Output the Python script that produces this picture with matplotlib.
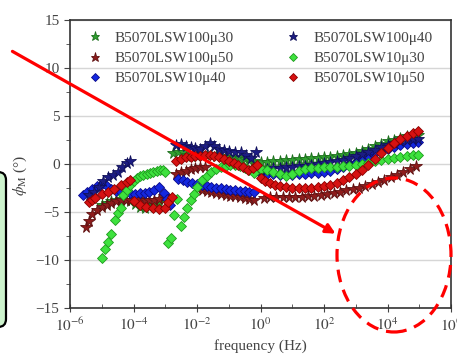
import matplotlib
matplotlib.use('Agg')
import matplotlib.pyplot as plt
import numpy as np
from matplotlib.patches import Ellipse, FancyArrowPatch, FancyBboxPatch
from matplotlib.transforms import IdentityTransform
from matplotlib.ticker import NullFormatter

plt.rcParams['font.family'] = ['Liberation Serif', 'DejaVu Serif']
plt.rcParams['mathtext.fontset'] = 'stix'

# --- données (log10 de la fréquence, phase en degrés) ---
labels = ['B5070LSW100\u03bc30', 'B5070LSW100\u03bc50', 'B5070LSW10\u03bc40',
          'B5070LSW100\u03bc40', 'B5070LSW10\u03bc30', 'B5070LSW10\u03bc50']

# étoiles vertes  B5070LSW100µ30
gs_logf = [-5.0, -4.85, -4.7, -4.55, -4.4, -4.25, -4.1, -3.95, -3.8, -3.65, -3.5, -3.35, -3.2, -3.05,
           -2.75, -2.6, -2.45, -2.3, -2.15, -2.0, -1.85, -1.7, -1.55, -1.4, -1.25, -1.1, -0.95, -0.8,
           -0.65, -0.5, -0.35, -0.2,
           0.0, 0.2, 0.4, 0.6, 0.8, 1.0, 1.2, 1.4, 1.6, 1.8, 2.0, 2.2, 2.4, 2.6, 2.8, 3.0, 3.2, 3.4,
           3.6, 3.8, 4.0, 4.2, 4.4, 4.6, 4.8, 4.95]
gs_phi = [-4.3, -4.1, -3.9, -3.7, -3.6, -3.7, -3.9, -4.2, -4.5, -4.6, -4.5, -4.3, -4.0, -3.6,
          1.1, 1.3, 1.2, 0.9, 0.8, 0.85, 0.9, 0.95, 0.9, 0.85, 0.8, 0.75, 0.75, 0.7,
          0.6, 0.5, 0.4, 0.3,
          0.2, 0.25, 0.3, 0.35, 0.4, 0.45, 0.5, 0.55, 0.6, 0.65, 0.7, 0.75, 0.8, 0.9, 1.0, 1.15, 1.35, 1.6,
          1.85, 2.1, 2.35, 2.55, 2.75, 2.9, 3.0, 3.05]

# étoiles rouge foncé  B5070LSW100µ50
rs_logf = [-5.5, -5.4, -5.3, -5.15, -5.0, -4.85, -4.7, -4.55, -4.4, -4.25, -4.1, -3.95, -3.8, -3.65,
           -3.5, -3.35, -3.2, -3.05,
           -2.65, -2.5, -2.35, -2.2, -2.05, -1.9, -1.75,
           -2.0, -1.85, -1.7, -1.55, -1.4, -1.25, -1.1, -0.95, -0.8, -0.65, -0.5, -0.35, -0.2,
           0.1, 0.3, 0.5, 0.7, 0.9, 1.1, 1.3, 1.5, 1.7, 1.9, 2.1, 2.3, 2.5, 2.7, 2.9, 3.1, 3.3, 3.5,
           3.7, 3.9, 4.1, 4.3, 4.5, 4.7, 4.9]
rs_phi = [-6.6, -5.9, -5.2, -4.8, -4.5, -4.3, -4.1, -3.9, -3.8, -3.75, -3.7, -3.6, -3.6, -3.7,
          -3.8, -3.8, -3.6, -3.3,
          -1.0, -0.85, -0.7, -0.55, -0.45, -0.35, -0.3,
          -2.5, -2.7, -2.85, -2.95, -3.05, -3.15, -3.2, -3.3, -3.35, -3.4, -3.5, -3.6, -3.7,
          -3.5, -3.4, -3.4, -3.4, -3.4, -3.4, -3.4, -3.35, -3.3, -3.2, -3.1, -3.0, -2.9, -2.75, -2.6,
          -2.45, -2.25, -2.05, -1.85, -1.65, -1.4, -1.1, -0.8, -0.5, -0.2]

# losanges bleus  B5070LSW10µ40
bd_logf = [-5.6, -5.45, -5.3, -5.15, -5.0, -4.85, -4.7, -4.55, -4.4, -4.25, -4.1, -3.95, -3.8, -3.65,
           -3.5, -3.35, -3.2, -3.05, -2.95, -2.85,
           -2.6, -2.45, -2.3, -2.15, -2.0, -1.85, -1.7, -1.55, -1.4, -1.25, -1.1, -0.95, -0.8, -0.65,
           -0.5, -0.35, -0.2,
           0.0, 0.2, 0.4, 0.6, 0.8, 1.0, 1.2, 1.4, 1.6, 1.8, 2.0, 2.2, 2.4, 2.6, 2.8, 3.0, 3.2, 3.4,
           3.6, 3.8, 4.0, 4.2, 4.4, 4.6, 4.8, 4.95]
bd_phi = [-3.2, -2.9, -2.6, -2.3, -2.1, -2.3, -2.6, -2.8, -2.9, -2.95, -3.0, -3.1, -3.05, -3.0,
          -2.9, -2.7, -2.4, -3.0, -3.6, -4.3,
          -1.6, -1.7, -1.85, -2.0, -2.1, -2.2, -2.3, -2.4, -2.5, -2.55, -2.6, -2.7, -2.7, -2.8,
          -2.85, -2.9, -2.9,
          -1.0, -1.0, -1.05, -1.1, -1.1, -1.1, -1.05, -1.0, -0.95, -0.9, -0.8, -0.7, -0.5, -0.3,
          -0.05, 0.2, 0.5, 0.8, 1.1, 1.4, 1.6, 1.8, 1.95, 2.1, 2.2, 2.3]

# étoiles bleu marine  B5070LSW100µ40
ns_logf = [-5.4, -5.25, -5.1, -4.95, -4.8, -4.65, -4.5, -4.35, -4.2, -4.1,
           -2.65, -2.5, -2.35, -2.2, -2.05, -1.9, -1.75, -1.6, -1.45, -1.3, -1.15, -1.0, -0.8, -0.6,
           -0.45, -0.3, -0.13,
           0.0, 0.2, 0.4, 0.6, 0.8, 1.0, 1.2, 1.4, 1.6, 1.8, 2.0, 2.2, 2.4, 2.6, 2.8, 3.0, 3.2, 3.4,
           3.6, 3.8, 4.0, 4.2, 4.4, 4.6, 4.8, 4.95]
ns_phi = [-3.2, -2.9, -2.4, -1.8, -1.4, -1.1, -0.8, -0.3, 0.1, 0.3,
          2.0, 2.1, 1.9, 1.8, 1.7, 1.6, 1.9, 2.2, 1.9, 1.6, 1.5, 1.4, 1.3, 1.2,
          0.9, 0.6, 1.3,
          -0.6, -0.5, -0.45, -0.4, -0.35, -0.3, -0.25, -0.2, -0.1, 0.0, 0.1, 0.2, 0.3, 0.45, 0.6,
          0.8, 1.0, 1.25, 1.5, 1.75, 2.0, 2.2, 2.35, 2.5, 2.6, 2.65]

# losanges verts  B5070LSW10µ30
gd_logf = [-5.0, -4.9, -4.8, -4.7, -4.58, -4.48, -4.39, -4.32, -4.21, -4.1, -4.0, -3.9, -3.8, -3.7,
           -3.58, -3.48, -3.38, -3.27, -3.17, -3.08, -3.0,
           -2.9, -2.82, -2.72, -2.64,
           -2.49, -2.4, -2.3, -2.2, -2.1, -2.0, -1.85, -1.7, -1.55, -1.4, -1.25, -1.1, -0.95, -0.8,
           -0.65, -0.5, -0.35, -0.2,
           0.0, 0.2, 0.4, 0.6, 0.8, 1.0, 1.2, 1.4, 1.6, 1.8, 2.0, 2.2, 2.4, 2.6, 2.8, 3.0, 3.2, 3.4,
           3.6, 3.8, 4.0, 4.2, 4.4, 4.6, 4.8, 4.95]
gd_phi = [-9.8, -8.9, -8.1, -7.3, -5.8, -5.1, -4.6, -3.2, -2.7, -2.2, -1.8, -1.5, -1.3, -1.1,
          -1.0, -0.9, -0.8, -0.7, -0.6, -0.65, -0.8,
          -8.2, -7.7, -5.3, -3.6,
          -6.5, -5.5, -4.6, -3.8, -3.1, -2.4, -1.7, -1.2, -0.8, -0.5, -0.3, -0.2, -0.1, -0.1,
          -0.2, -0.4, -0.6, -0.9,
          -0.5, -0.6, -0.8, -1.0, -1.3, -1.0, -0.7, -0.5, -0.45, -0.4, -0.35, -0.3, -0.3, -0.25,
          -0.2, -0.1, 0.0, 0.15, 0.3, 0.4, 0.5, 0.6, 0.7, 0.8, 0.9, 0.95]

# losanges rouges  B5070LSW10µ50
rd_logf = [-5.4, -5.3, -5.2, -5.0, -4.8, -4.6, -4.4, -4.2, -4.1,
           -4.0, -3.8, -3.6, -3.4, -3.2, -3.0, -2.9, -2.8,
           -2.65, -2.5, -2.35, -2.2, -2.05, -1.9, -1.75, -1.6, -1.45, -1.3, -1.15, -1.0, -0.85, -0.7,
           -0.55, -0.4, -0.25, -0.1,
           0.0, 0.15, 0.3, 0.45, 0.6, 0.8, 1.0, 1.2, 1.4, 1.6, 1.8, 2.0, 2.2, 2.4, 2.6, 2.8, 3.0,
           3.2, 3.4, 3.6, 3.8, 4.0, 4.2, 4.4, 4.6, 4.8, 4.95]
rd_phi = [-4.0, -3.8, -3.5, -3.1, -2.9, -2.6, -2.2, -1.9, -1.7,
          -3.9, -4.3, -4.5, -4.6, -4.7, -4.6, -4.0, -3.4,
          0.3, 0.5, 0.7, 0.75, 0.8, 0.85, 0.9, 0.9, 0.85, 0.7, 0.5, 0.3, 0.1, -0.15,
          -0.35, -0.6, -0.4, -0.1,
          -1.5, -1.8, -2.0, -2.2, -2.3, -2.4, -2.45, -2.5, -2.5, -2.5, -2.4, -2.3, -2.15, -2.0,
          -1.7, -1.4, -1.0, -0.6, -0.1, 0.5, 1.1, 1.7, 2.2, 2.6, 2.9, 3.2, 3.4]

# --- figure ---
fig = plt.figure(figsize=(4.57, 3.58), dpi=100)
ax = fig.add_axes([70/457, 50/358, 381/457, 288/358])

series = [
    (gs_logf, gs_phi, '*', 8.5, '#2f9f2f', '#1d6e1d'),
    (rs_logf, rs_phi, '*', 8.5, '#8e1c1c', '#5e1010'),
    (bd_logf, bd_phi, 'D', 5.5, '#1428e0', '#0a0a8a'),
    (ns_logf, ns_phi, '*', 8.5, '#1c1c84', '#10105a'),
    (gd_logf, gd_phi, 'D', 5.5, '#3ee23e', '#1e9a1e'),
    (rd_logf, rd_phi, 'D', 5.5, '#d61212', '#8a0000'),
]
for (lf, ph, m, ms, c, ec), lab in zip(series, labels):
    ax.semilogx(10.0 ** np.array(lf), ph, linestyle='none', marker=m, ms=ms,
                mfc=c, mec=ec, mew=0.6, label=lab)

ax.set_xlim(1e-6, 1e6)
ax.set_ylim(-15, 15)
ax.set_xticks([10.0 ** k for k in range(-6, 7, 2)])
ax.set_xticklabels([r'$10^{%d}$' % k for k in range(-6, 7, 2)])
ax.set_xticks([10.0 ** k for k in range(-5, 6, 2)], minor=True)
ax.xaxis.set_minor_formatter(NullFormatter())
ax.set_yticks(np.arange(-15, 16, 5))
ax.set_yticks(np.arange(-12.5, 15, 2.5), minor=True)
ax.yaxis.grid(True, color='#d6d6d6', lw=1.0)
ax.set_axisbelow(True)

for s in ax.spines.values():
    s.set_color('#333333')
    s.set_linewidth(1.2)
ax.tick_params(axis='x', which='major', direction='inout', length=6, labelsize=11,
               colors='#444444', pad=3)
ax.tick_params(axis='x', which='minor', direction='in', length=3, color='#444444')
ax.tick_params(axis='y', which='major', direction='out', length=4, labelsize=11,
               colors='#444444')
ax.tick_params(axis='y', which='minor', direction='out', length=3, color='#444444')

ax.set_xlabel('frequency (Hz)', fontsize=11, color='#444444')
ax.xaxis.set_label_coords(0.5, -0.108)
ax.set_ylabel(r'$\phi_\mathrm{M}$ (°)', fontsize=11, color='#444444')
ax.yaxis.set_label_coords(-0.108, 0.46)

ax.legend(ncol=2, loc='upper left', bbox_to_anchor=(87/457, 1 - 31/358),
          bbox_transform=fig.transFigure, frameon=False, borderpad=0, borderaxespad=0,
          handlelength=1.0, handletextpad=0.8, columnspacing=3.4, labelspacing=0.43,
          numpoints=1, markerscale=0.8, fontsize=11, labelcolor='#444444')

# --- annotations en rouge (coordonnées en pixels) ---
pix = IdentityTransform()
box = FancyBboxPatch((-20, 31), 26, 155, boxstyle='round,pad=0,rounding_size=8',
                     transform=pix, fc='#cdf3cd', ec='black', lw=1.6)
fig.add_artist(box)
arrow = FancyArrowPatch((10, 308), (338, 123), transform=pix, arrowstyle='-|>',
                        mutation_scale=14, lw=2.3, color='red')
fig.add_artist(arrow)
ell = Ellipse((394, 103), 114, 154, transform=pix, fill=False, ec='red', lw=2.3,
              ls=(0, (4, 2.5)))
fig.add_artist(ell)

fig.savefig('out.png', dpi=100)
